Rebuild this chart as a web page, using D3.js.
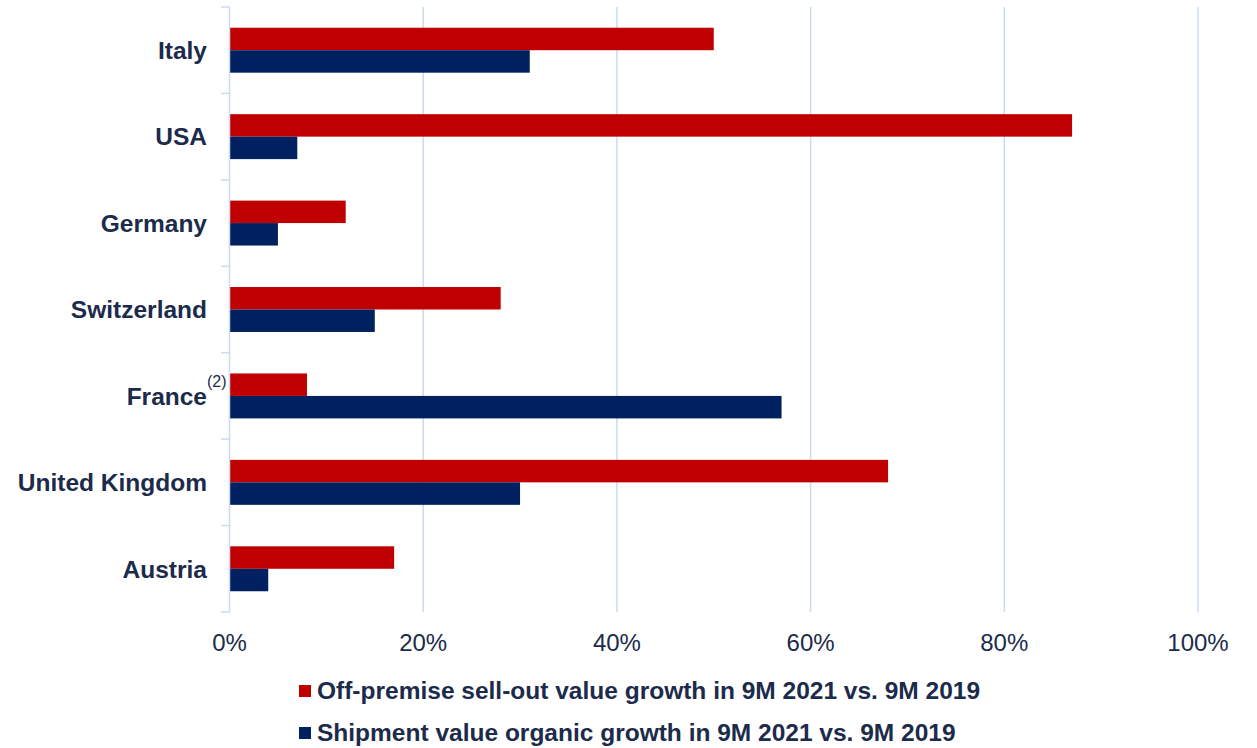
<!DOCTYPE html>
<meta charset="utf-8">
<head>
<style>
body { margin: 0; background: #fff; }
svg { display: block; }
.cat text { font: bold 24.5px "Liberation Sans", Arial, sans-serif; fill: #1c2b4b; }
.xaxis text { font: 24px "Liberation Sans", Arial, sans-serif; fill: #1c2b4b; }
.legend text { font: bold 24.5px "Liberation Sans", Arial, sans-serif; fill: #1c2b4b; }
</style>
<script src="https://d3js.org/d3.v7.min.js"></script>
</head>
<body>
<svg width="1257" height="748"></svg>
<script>

// data
var countries = ["Italy", "USA", "Germany", "Switzerland", "France", "United Kingdom", "Austria"];
var sellOut = [0.50, 0.87, 0.12, 0.28, 0.08, 0.68, 0.17];
var shipment = [0.31, 0.07, 0.05, 0.15, 0.57, 0.30, 0.04];
var xTicks = [0, 0.2, 0.4, 0.6, 0.8, 1.0];
var seriesNames = ["Off-premise sell-out value growth in 9M 2021 vs. 9M 2019",
                   "Shipment value organic growth in 9M 2021 vs. 9M 2019"];
var seriesColors = ["#c00000", "#002060"];

var svg = d3.select("svg");
var gridColor = "#ccdaf2";

var x = d3.scaleLinear().domain([0, 1]).range([229.5, 1198]);
var y = d3.scaleBand().domain(countries).range([7, 612]).paddingInner(0.48).paddingOuter(0.24);
var sub = d3.scaleBand().domain([0, 1]).range([0, y.bandwidth()]);

// vertical gridlines (skip 0, that one is the axis)
svg.append("g")
  .selectAll("line")
  .data(xTicks.filter(d => d > 0))
  .enter().append("line")
    .attr("x1", d => x(d)).attr("x2", d => x(d))
    .attr("y1", 7).attr("y2", 612)
    .attr("stroke", gridColor)
    .attr("stroke-width", 1.5);

// bars
var rows = countries.map((c, i) => ({ country: c, vals: [sellOut[i], shipment[i]] }));
var grp = svg.append("g")
  .selectAll("g")
  .data(rows)
  .enter().append("g")
    .attr("transform", d => "translate(0," + y(d.country) + ")");

grp.selectAll("rect")
  .data(d => d.vals.map((v, k) => ({ v: v, k: k })))
  .enter().append("rect")
    .attr("x", x(0))
    .attr("y", d => sub(d.k))
    .attr("width", d => x(d.v) - x(0))
    .attr("height", sub.bandwidth())
    .attr("fill", d => seriesColors[d.k]);

// category axis: line + ticks between bands
var catAxis = svg.append("g").attr("class", "cat");
catAxis.append("line")
  .attr("x1", 229.5).attr("x2", 229.5)
  .attr("y1", 7).attr("y2", 612)
  .attr("stroke", gridColor).attr("stroke-width", 1.5);

var bounds = d3.range(countries.length + 1).map(i => 7 + i * (605 / countries.length));
catAxis.selectAll(".tk")
  .data(bounds)
  .enter().append("line")
    .attr("x1", 221).attr("x2", 229.5)
    .attr("y1", d => d).attr("y2", d => d)
    .attr("stroke", gridColor).attr("stroke-width", 1.5);

catAxis.selectAll(".lbl")
  .data(countries)
  .enter().append("text")
    .attr("x", 207)
    .attr("y", d => y(d) + y.bandwidth() / 2)
    .attr("dy", "0.36em")
    .attr("text-anchor", "end")
    .text(d => d);

// footnote marker on France
catAxis.append("text")
  .attr("x", 207)
  .attr("y", y("France") + y.bandwidth() / 2 - 9)
  .attr("text-anchor", "start")
  .style("font", "16px 'Liberation Sans', Arial, sans-serif")
  .text("(2)");

// x tick labels
svg.append("g").attr("class", "xaxis")
  .selectAll("text")
  .data(xTicks)
  .enter().append("text")
    .attr("x", d => x(d))
    .attr("y", 651)
    .attr("text-anchor", "middle")
    .text(d3.format(".0%"));

// legend
var leg = svg.append("g").attr("class", "legend")
  .selectAll("g")
  .data(seriesNames)
  .enter().append("g")
    .attr("transform", (d, i) => "translate(299," + (685 + i * 42) + ")");

leg.append("rect")
  .attr("width", 12).attr("height", 12)
  .attr("fill", (d, i) => seriesColors[i]);

leg.append("text")
  .attr("x", 18)
  .attr("y", 14)
  .text(d => d);

</script>
</body>
